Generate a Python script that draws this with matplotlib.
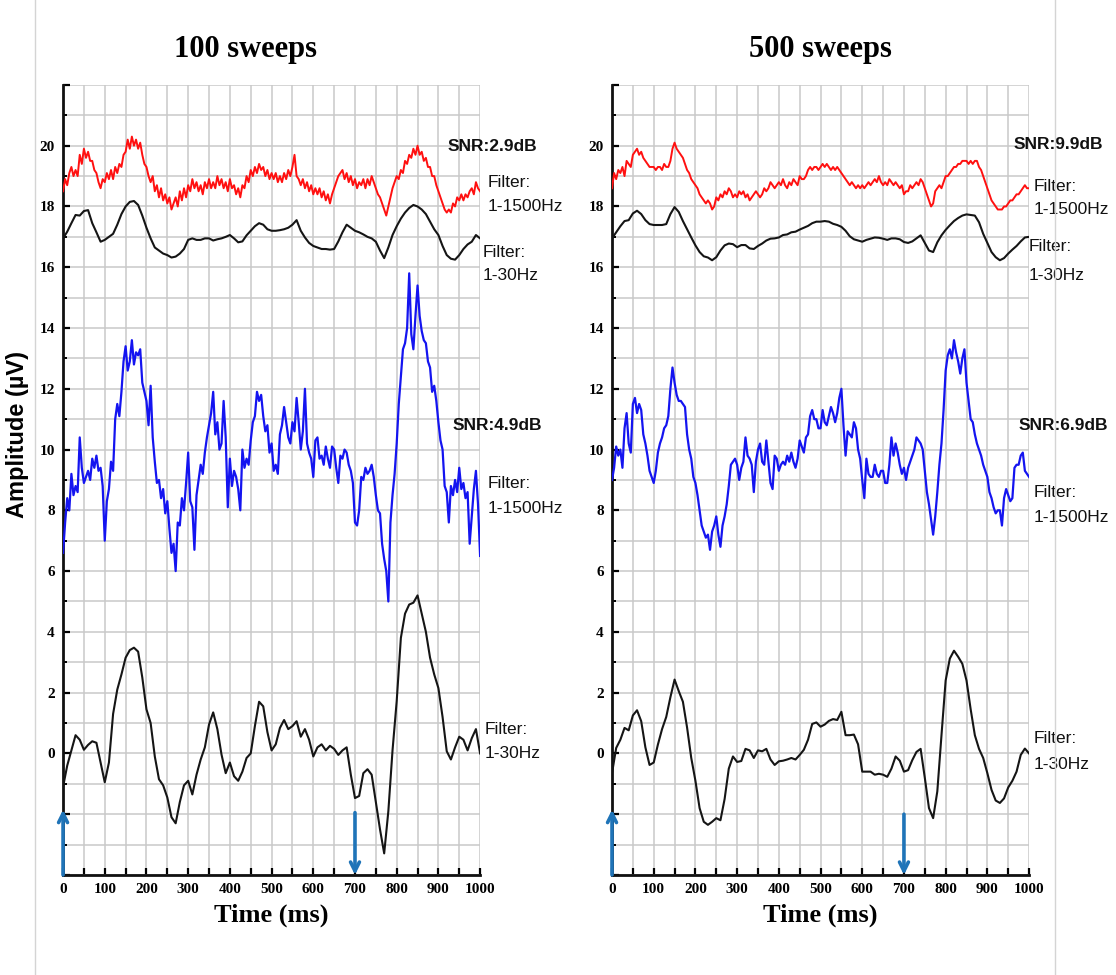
import numpy as np
import matplotlib
matplotlib.use("Agg")
import matplotlib.pyplot as plt
from matplotlib.ticker import MultipleLocator, FuncFormatter
from matplotlib.lines import Line2D

# time axes (ms): fine sampling for 1-1500 Hz traces, coarser for 1-30 Hz
T_FINE = np.arange(0, 1001, 5)
T_SMOOTH = np.arange(0, 1001, 10)

# ---------------- 100 sweeps ----------------
RED_100 = [
    18.5, 18.9, 18.7, 19.1, 19.3, 19.0, 19.2, 19.0, 19.7, 19.4,
    19.9, 19.6, 19.8, 19.5, 19.5, 19.2, 19.1, 18.8, 18.6, 18.9,
    18.8, 19.1, 18.9, 19.2, 18.9, 19.3, 19.1, 19.4, 19.3, 19.7,
    19.8, 20.2, 19.9, 20.3, 20.0, 20.2, 19.9, 20.1, 19.7, 19.4,
    19.3, 19.0, 18.8, 19.0, 18.5, 18.7, 18.3, 18.6, 18.2, 18.4,
    18.1, 18.3, 17.9, 18.1, 18.3, 18.0, 18.5, 18.2, 18.6, 18.3,
    18.7, 18.5, 18.9, 18.6, 18.8, 18.5, 18.7, 18.4, 18.8, 18.6,
    18.9, 18.6, 18.8, 18.6, 19.0, 18.7, 18.9, 18.6, 18.8, 18.5,
    18.9, 18.6, 18.7, 18.4, 18.6, 18.3, 18.7, 18.6, 19.0, 18.8,
    19.2, 19.0, 19.3, 19.1, 19.4, 19.2, 19.3, 19.0, 19.2, 18.9,
    19.1, 18.9, 19.1, 18.8, 19.0, 18.8, 19.1, 18.9, 19.2, 19.0,
    19.3, 19.7, 19.0, 18.9, 18.7, 18.9, 18.6, 18.8, 18.5, 18.7,
    18.4, 18.6, 18.4, 18.6, 18.3, 18.5, 18.2, 18.4, 18.1, 18.4,
    18.6, 18.8, 19.0, 19.1, 19.2, 18.9, 19.1, 18.8, 19.0, 18.7,
    18.9, 18.6, 18.8, 18.7, 18.9, 18.6, 18.9, 18.7, 19.0, 18.8,
    18.6, 18.4, 18.3, 18.1, 17.9, 17.7, 18.0, 18.3, 18.6, 18.8,
    19.0, 18.9, 19.2, 19.1, 19.5, 19.4, 19.7, 19.6, 19.9, 19.7,
    20.0, 19.7, 19.8, 19.5, 19.6, 19.3, 19.3, 19.0, 19.0, 18.7,
    18.5, 18.3, 18.1, 17.9, 17.8, 17.9, 17.8, 18.1, 18.0, 18.3,
    18.2, 18.4, 18.2, 18.4, 18.3, 18.5, 18.6, 18.4, 18.8, 18.6,
    18.5]

BLACK_TOP_100 = [
    16.95, 17.17, 17.45, 17.72, 17.7, 17.85, 17.88, 17.45, 17.15, 16.84,
    16.9, 17.0, 17.1, 17.4, 17.75, 18.0, 18.15, 18.18, 18.05, 17.7,
    17.3, 16.95, 16.65, 16.55, 16.45, 16.4, 16.32, 16.35, 16.45, 16.6,
    16.9, 16.95, 16.9, 16.9, 16.95, 16.95, 16.88, 16.92, 16.95, 17.0,
    17.06, 16.95, 16.82, 16.85, 17.05, 17.2, 17.35, 17.45, 17.4, 17.25,
    17.2, 17.2, 17.22, 17.25, 17.3, 17.4, 17.55, 17.2, 16.98, 16.8,
    16.7, 16.65, 16.6, 16.6, 16.58, 16.6, 16.85, 17.15, 17.4, 17.3,
    17.2, 17.15, 17.08, 17.0, 16.95, 16.84, 16.55, 16.3, 16.65, 17.06,
    17.35, 17.6, 17.8, 17.95, 18.05, 18.0, 17.9, 17.75, 17.5, 17.25,
    17.06, 16.7, 16.4, 16.28, 16.25, 16.4, 16.6, 16.75, 16.84, 17.06,
    16.95]

BLUE_100 = [
    6.6, 7.6, 8.4, 8.0, 9.2, 8.5, 8.8, 8.6, 10.4, 9.4,
    8.9, 9.1, 9.3, 9.0, 9.7, 9.4, 9.8, 9.3, 9.4, 8.8,
    7.0, 8.3, 8.7, 9.6, 9.3, 11.0, 11.5, 11.1, 11.9, 12.9,
    13.4, 12.6, 12.9, 13.6, 12.8, 13.2, 13.1, 13.3, 12.2, 11.9,
    11.6, 10.8, 12.1, 10.4, 9.6, 8.9, 9.0, 8.4, 8.7, 7.9,
    8.3, 7.4, 6.6, 6.9, 6.0, 7.6, 7.5, 8.4, 8.0, 8.9,
    9.9, 8.3, 8.1, 6.7, 8.5, 9.0, 9.5, 9.2, 9.9, 10.4,
    10.8, 11.2, 11.9, 10.5, 10.9, 10.0, 10.2, 11.6, 10.4, 8.1,
    9.7, 8.8, 9.3, 9.1, 8.7, 8.0, 10.0, 9.4, 9.7, 9.5,
    10.3, 10.9, 11.1, 11.9, 11.6, 11.8, 11.1, 10.6, 10.8, 9.9,
    10.2, 9.3, 9.5, 9.2, 10.5, 10.8, 11.4, 10.9, 10.4, 10.2,
    10.9, 10.6, 11.7, 10.9, 10.0, 10.6, 12.0, 10.2, 9.9, 9.7,
    9.1, 10.3, 10.4, 9.7, 9.8, 9.5, 10.1, 9.7, 9.4, 10.1,
    10.0, 9.4, 8.9, 9.8, 9.7, 10.0, 9.9, 9.5, 9.3, 8.9,
    7.6, 7.5, 8.0, 9.1, 9.0, 9.4, 9.2, 9.3, 9.5, 9.1,
    8.5, 8.0, 7.9, 6.9, 6.4, 6.0, 5.0, 7.6, 8.5, 9.2,
    10.2, 11.5, 12.4, 13.3, 13.5, 14.0, 15.8, 13.8, 13.3, 14.4,
    15.4, 14.4, 13.9, 13.6, 13.5, 12.9, 12.7, 11.9, 12.1, 11.6,
    10.9, 10.3, 10.0, 8.8, 8.6, 7.6, 8.8, 8.5, 9.0, 8.6,
    9.4, 8.7, 8.9, 8.4, 8.6, 6.9, 7.8, 8.7, 9.3, 8.2,
    6.5]

BLACK_BOT_100 = [
    -1.1, -0.4, 0.1, 0.6, 0.45, 0.12, 0.28, 0.4, 0.35, -0.3,
    -0.95, -0.3, 1.3, 2.1, 2.6, 3.15, 3.4, 3.48, 3.35, 2.5,
    1.45, 1.0, -0.1, -0.85, -1.05, -1.45, -2.1, -2.3, -1.6, -1.05,
    -0.9, -1.35, -0.7, -0.2, 0.2, 0.95, 1.35, 0.8, -0.04, -0.65,
    -0.3, -0.75, -0.9, -0.6, -0.15, 0.0, 0.9, 1.7, 1.55, 0.7,
    0.1, 0.3, 0.84, 1.1, 0.8, 0.9, 1.06, 0.55, 0.8, 0.45,
    -0.1, 0.2, 0.3, 0.1, 0.25, 0.15, -0.05, 0.1, 0.2, -0.7,
    -1.47, -1.4, -0.65, -0.52, -0.7, -1.6, -2.5, -3.29, -1.9, 0.1,
    1.72, 3.8, 4.6, 4.9, 4.96, 5.2, 4.6, 4.0, 3.15, 2.6,
    2.15, 1.2, 0.07, -0.2, 0.2, 0.55, 0.45, 0.1, 0.5, 0.8,
    0.0]

# ---------------- 500 sweeps ----------------
RED_500 = [
    18.6, 19.1, 18.9, 19.2, 19.1, 19.3, 19.0, 19.5, 19.4, 19.3,
    19.7, 19.8, 19.9, 19.7, 19.8, 19.6, 19.5, 19.4, 19.3, 19.3,
    19.3, 19.2, 19.3, 19.3, 19.2, 19.4, 19.3, 19.3, 19.5, 19.9,
    20.1, 19.9, 19.8, 19.7, 19.6, 19.4, 19.2, 19.1, 18.9, 18.8,
    18.7, 18.6, 18.4, 18.3, 18.2, 18.1, 18.2, 18.1, 17.9, 18.0,
    18.3, 18.2, 18.4, 18.3, 18.5, 18.4, 18.6, 18.5, 18.3, 18.4,
    18.3, 18.5, 18.4, 18.5, 18.3, 18.4, 18.2, 18.3, 18.4, 18.5,
    18.4, 18.3, 18.4, 18.6, 18.5, 18.6, 18.8, 18.7, 18.6, 18.7,
    18.8, 18.7, 18.9, 18.7, 18.6, 18.8, 18.7, 18.9, 18.8, 18.7,
    19.0, 18.9, 18.9, 19.0, 19.2, 19.3, 19.2, 19.3, 19.3, 19.2,
    19.3, 19.4, 19.3, 19.4, 19.3, 19.2, 19.3, 19.2, 19.3, 19.2,
    19.1, 19.0, 18.9, 18.8, 18.7, 18.8, 18.7, 18.6, 18.7, 18.6,
    18.7, 18.6, 18.7, 18.8, 18.7, 18.8, 18.9, 18.8, 19.0, 18.8,
    18.7, 18.8, 18.7, 18.9, 18.8, 18.7, 18.8, 18.7, 18.6, 18.7,
    18.4, 18.5, 18.5, 18.7, 18.6, 18.7, 18.8, 18.7, 18.9, 18.8,
    18.6, 18.4, 18.2, 18.0, 18.1, 18.5, 18.6, 18.7, 18.6, 18.8,
    19.0, 19.0, 19.1, 19.2, 19.3, 19.3, 19.4, 19.4, 19.5, 19.5,
    19.5, 19.4, 19.5, 19.4, 19.5, 19.5, 19.3, 19.2, 19.0, 18.8,
    18.6, 18.4, 18.2, 18.1, 18.0, 17.9, 17.9, 17.9, 18.0, 18.0,
    18.1, 18.2, 18.2, 18.3, 18.4, 18.4, 18.5, 18.6, 18.7, 18.6,
    18.6]

BLACK_TOP_500 = [
    16.95, 17.15, 17.35, 17.52, 17.55, 17.77, 17.86, 17.75, 17.55, 17.42,
    17.39, 17.39, 17.39, 17.42, 17.75, 17.98, 17.82, 17.52, 17.25, 16.98,
    16.72, 16.5, 16.36, 16.32, 16.23, 16.33, 16.55, 16.72, 16.78, 16.76,
    16.66, 16.73, 16.73, 16.62, 16.6, 16.7, 16.78, 16.88, 16.94, 16.95,
    16.98, 17.06, 17.08, 17.15, 17.17, 17.24, 17.3, 17.36, 17.45, 17.5,
    17.5, 17.52, 17.5, 17.43, 17.39, 17.33, 17.2, 17.02, 16.92, 16.88,
    16.84, 16.9, 16.94, 16.98, 16.97, 16.94, 16.9, 16.95, 16.95, 16.92,
    16.83, 16.8, 16.85, 16.95, 17.05, 16.8, 16.55, 16.5, 16.82, 17.05,
    17.23, 17.38, 17.52, 17.62, 17.7, 17.74, 17.72, 17.7, 17.48, 17.1,
    16.8, 16.5, 16.33, 16.23, 16.3, 16.45, 16.58, 16.7, 16.85, 16.98,
    17.0]

BLUE_500 = [
    9.0, 9.4, 10.1, 9.8, 10.0, 9.4, 10.7, 11.2, 10.2, 9.9,
    11.5, 11.7, 11.2, 11.5, 11.3, 10.5, 10.2, 9.8, 9.3, 9.1,
    8.9, 9.3, 9.9, 10.2, 10.4, 10.7, 10.8, 11.1, 12.0, 12.7,
    12.2, 11.8, 11.6, 11.6, 11.5, 11.4, 10.5, 10.0, 9.7, 9.1,
    8.9, 8.5, 8.0, 7.5, 7.3, 7.1, 7.2, 6.7, 7.3, 7.5,
    7.8, 7.2, 6.8, 7.5, 7.8, 8.2, 8.8, 9.5, 9.6, 9.7,
    9.5, 9.0, 9.4, 9.6, 10.4, 9.8, 9.7, 9.5, 8.6, 9.6,
    10.0, 10.2, 9.6, 9.5, 10.3, 9.6, 8.9, 8.7, 9.8, 9.7,
    9.3, 9.5, 9.6, 9.5, 9.8, 9.6, 9.9, 9.6, 9.4, 9.7,
    10.3, 10.1, 9.9, 10.4, 10.5, 11.1, 11.3, 11.0, 11.0, 10.7,
    10.7, 11.3, 10.9, 10.8, 11.1, 11.4, 11.2, 10.9, 11.2, 11.7,
    12.0, 10.8, 9.8, 10.6, 10.5, 10.4, 10.9, 10.7, 10.0, 9.7,
    9.0, 8.4, 9.7, 9.2, 9.1, 9.1, 9.5, 9.2, 9.1, 9.3,
    9.3, 8.9, 8.9, 9.5, 10.4, 9.8, 10.2, 9.9, 9.5, 9.2,
    9.4, 9.0, 9.4, 9.6, 9.8, 10.0, 10.4, 10.3, 10.2, 10.0,
    9.3, 8.6, 8.2, 7.7, 7.2, 7.8, 8.6, 9.5, 10.2, 11.3,
    12.6, 13.1, 13.3, 13.0, 13.6, 13.2, 12.9, 12.5, 13.0, 13.3,
    12.2, 11.6, 11.0, 10.9, 10.5, 10.2, 10.0, 9.8, 9.5, 9.3,
    9.1, 8.6, 8.4, 8.1, 7.9, 8.0, 8.0, 7.5, 8.4, 8.7,
    8.5, 8.3, 8.4, 9.4, 9.5, 9.5, 9.8, 9.9, 9.3, 9.2,
    9.1]

BLACK_BOT_500 = [
    -0.65, 0.18, 0.45, 0.84, 0.76, 1.25, 1.42, 1.06, 0.2, -0.38,
    -0.3, 0.29, 0.8, 1.2, 1.85, 2.43, 2.05, 1.7, 0.85, -0.15,
    -0.9, -1.8, -2.25, -2.35, -2.25, -2.13, -2.2, -1.5, -0.5, -0.1,
    -0.28, -0.25, 0.15, 0.1, -0.15, 0.1, 0.07, 0.15, -0.2, -0.38,
    -0.26, -0.24, -0.2, -0.15, -0.2, -0.05, 0.12, 0.45, 0.97, 1.02,
    0.88, 0.95, 1.07, 1.13, 1.1, 1.37, 0.6, 0.6, 0.62, 0.3,
    -0.6, -0.6, -0.6, -0.7, -0.67, -0.7, -0.77, -0.5, -0.1, -0.24,
    -0.6, -0.55, -0.22, 0.05, 0.15, -0.8, -1.8, -2.13, -1.25, 0.6,
    2.4, 3.12, 3.38, 3.18, 2.95, 2.4, 1.45, 0.6, 0.15, -0.15,
    -0.65, -1.2, -1.55, -1.63, -1.48, -1.12, -0.9, -0.6, -0.05, 0.16,
    0.0]

TITLES = ["100 sweeps", "500 sweeps"]
SNR = [["SNR:2.9dB", "SNR:4.9dB"], ["SNR:9.9dB", "SNR:6.9dB"]]
STIM_T = [0, 700]   # blue arrows: onset (up) and offset (down)

SERIF = "Liberation Serif"
SANS = "Liberation Sans"
RED, BLUE, BLK = "#ff1010", "#1414f0", "#151515"
ARROW_C = "#1f74b8"
GRID_C = "#c9c9c9"

fig = plt.figure(figsize=(11.16, 9.75), dpi=100, facecolor="white")

# faint page borders
fig.add_artist(Line2D([0.031, 0.031], [0.0, 1.0], color="#d4d4d4", lw=1.0))
fig.add_artist(Line2D([0.945, 0.945], [0.0, 1.0], color="#d4d4d4", lw=1.0))

panels = [
    dict(left=0.0565, red=RED_100, btop=BLACK_TOP_100, blue=BLUE_100,
         bbot=BLACK_BOT_100,
         ann=[(923, 19.97, SNR[0][0], True), (1017, 18.8, "Filter:", False),
              (1017, 18.0, "1-1500Hz", False), (1005, 16.5, "Filter:", False),
              (1005, 15.74, "1-30Hz", False), (933, 10.8, SNR[0][1], True),
              (1019, 8.88, "Filter:", False), (1019, 8.05, "1-1500Hz", False),
              (1012, 0.8, "Filter:", False), (1012, 0.0, "1-30Hz", False)],
         title_x=246, arrow_top=[-1.85, -1.95]),
    dict(left=0.5484, red=RED_500, btop=BLACK_TOP_500, blue=BLUE_500,
         bbot=BLACK_BOT_500,
         ann=[(964, 20.03, SNR[1][0], True), (1012, 18.65, "Filter:", False),
              (1012, 17.9, "1-1500Hz", False), (998, 16.67, "Filter:", False),
              (998, 15.74, "1-30Hz", False), (974, 10.8, SNR[1][1], True),
              (1010, 8.58, "Filter:", False), (1010, 7.76, "1-1500Hz", False),
              (1012, 0.5, "Filter:", False), (1012, -0.36, "1-30Hz", False)],
         title_x=820, arrow_top=[-1.85, -2.0]),
]

for i, p in enumerate(panels):
    ax = fig.add_axes([p["left"], 0.1026, 0.3737, 0.8103])
    ax.set_xlim(0, 1000)
    ax.set_ylim(-4, 22)

    ax.xaxis.set_major_locator(MultipleLocator(100))
    ax.xaxis.set_minor_locator(MultipleLocator(50))
    ax.yaxis.set_major_locator(MultipleLocator(2))
    ax.yaxis.set_minor_locator(MultipleLocator(1))
    ax.yaxis.set_major_formatter(FuncFormatter(
        lambda v, pos: f"{v:.0f}" if 0 <= v <= 20 else ""))
    ax.grid(True, which="both", color=GRID_C, lw=1.1, zorder=0)
    ax.set_axisbelow(True)

    for s in ["top", "right"]:
        ax.spines[s].set_visible(False)
    for s in ["left", "bottom"]:
        ax.spines[s].set_linewidth(2.0)
        ax.spines[s].set_color("#111111")
    ax.tick_params(which="major", direction="in", length=5, width=1.6,
                   labelsize=11, pad=6)
    ax.tick_params(axis="x", which="minor", direction="in", length=5, width=1.6)
    ax.tick_params(axis="y", which="minor", direction="in", length=3, width=1.4)
    for lab in ax.get_xticklabels() + ax.get_yticklabels():
        lab.set_fontfamily(SERIF)
        lab.set_fontweight("bold")

    ax.plot(T_FINE, p["red"], color=RED, lw=1.4, zorder=3)
    ax.plot(T_SMOOTH, p["btop"], color=BLK, lw=1.5, zorder=3)
    ax.plot(T_FINE, p["blue"], color=BLUE, lw=1.6, zorder=3)
    ax.plot(T_SMOOTH, p["bbot"], color=BLK, lw=1.5, zorder=3)

    # stimulus arrows
    ax.annotate("", xy=(STIM_T[0], p["arrow_top"][0]), xytext=(STIM_T[0], -4),
                arrowprops=dict(arrowstyle="->", color=ARROW_C, lw=2.6,
                                mutation_scale=16, shrinkA=0, shrinkB=0),
                zorder=4, annotation_clip=False)
    ax.annotate("", xy=(STIM_T[1], -4), xytext=(STIM_T[1], p["arrow_top"][1]),
                arrowprops=dict(arrowstyle="->", color=ARROW_C, lw=2.6,
                                mutation_scale=16, shrinkA=0, shrinkB=0),
                zorder=4, annotation_clip=False)

    for x, y, txt, bold in p["ann"]:
        ax.text(x, y, txt, ha="left", va="center", fontsize=12.5,
                family=SANS, fontweight="bold" if bold else "normal",
                color="#111111", clip_on=False)

    fig.text(p["title_x"] / 1116, 1 - 50 / 975, TITLES[i], ha="center",
             va="center", family=SERIF, fontweight="bold", fontsize=22)
    ax.set_xlabel("Time (ms)", family=SERIF, fontweight="bold", fontsize=19,
                  labelpad=5)

fig.text(18 / 1116, 1 - 435 / 975, "Amplitude (\u00b5V)", rotation=90,
         ha="center", va="center", family=SANS, fontweight="bold", fontsize=17)

fig.savefig("out.png", dpi=100, facecolor="white")
